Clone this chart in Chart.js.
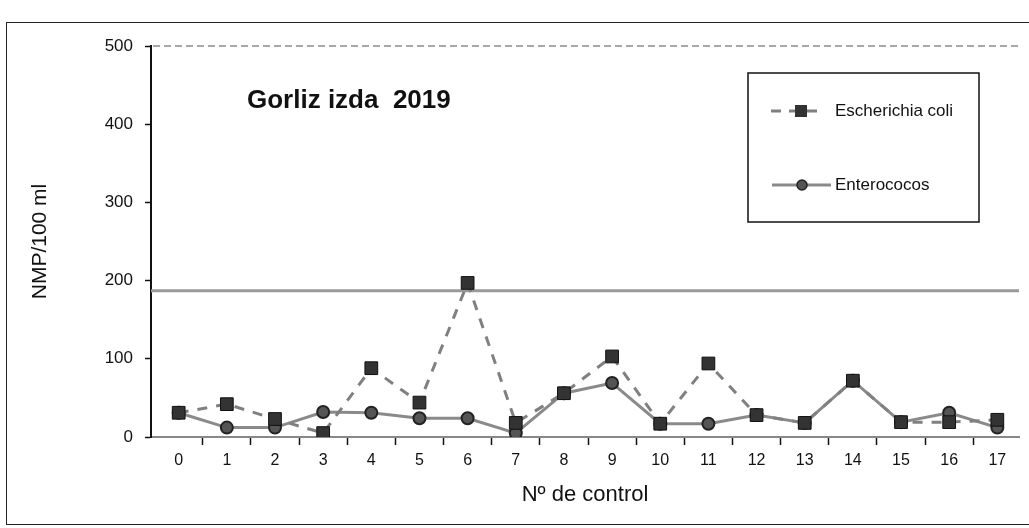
<!DOCTYPE html>
<html>
<head>
<meta charset="utf-8">
<script src="https://cdn.jsdelivr.net/npm/chart.js@4.4.1/dist/chart.umd.min.js"></script>
<style>
  html, body { margin: 0; padding: 0; background: #fff; overflow: hidden; }
  #wrap { position: relative; width: 1029px; height: 528px; overflow: hidden; }
  #frame { position: absolute; left: 6px; top: 22px; width: 1100px; height: 501px; border: 1.5px solid #222; pointer-events: none; }
</style>
</head>
<body>
<div id="wrap">
  <canvas id="grafico" width="1029" height="528"></canvas>
  <div id="frame"></div>
</div>
<script>
// datos
const categorias = [0, 1, 2, 3, 4, 5, 6, 7, 8, 9, 10, 11, 12, 13, 14, 15, 16, 17];
const eColi = [31, 42, 23, 5, 88, 44, 197, 18, 56, 103, 17, 94, 28, 18, 72, 19, 19, 22];
const enterococos = [31, 12, 12, 32, 31, 24, 24, 5, 56, 69, 17, 17, 28, 18, 72, 19, 31, 12];
const yTicks = [0, 100, 200, 300, 400, 500];
const limite = 187;
const techo = 500;

const FONT = '"Liberation Sans", Arial, sans-serif';

// líneas de referencia, título y leyenda dibujados sobre el canvas
const extras = {
  id: 'extras',
  beforeDatasetsDraw(chart) {
    const { ctx, chartArea, scales } = chart;
    ctx.save();
    let y = scales.y.getPixelForValue(limite);
    ctx.strokeStyle = '#9a9a9a';
    ctx.lineWidth = 3;
    ctx.beginPath(); ctx.moveTo(chartArea.left, y); ctx.lineTo(chartArea.right, y); ctx.stroke();
    y = scales.y.getPixelForValue(techo);
    ctx.strokeStyle = '#a8a8a8';
    ctx.lineWidth = 2;
    ctx.setLineDash([7, 4]);
    ctx.beginPath(); ctx.moveTo(chartArea.left + 2, y); ctx.lineTo(chartArea.right, y); ctx.stroke();
    ctx.restore();
  },
  afterDraw(chart) {
    const ctx = chart.ctx;
    ctx.save();
    ctx.fillStyle = '#111';
    ctx.font = 'bold 26px ' + FONT;
    ctx.textBaseline = 'middle';
    ctx.fillText('Gorliz izda  2019', 247, 101);

    // leyenda
    ctx.strokeStyle = '#111';
    ctx.lineWidth = 1.5;
    ctx.strokeRect(748, 73, 231, 149);

    ctx.strokeStyle = '#808080';
    ctx.lineWidth = 3;
    ctx.setLineDash([10, 8]);
    ctx.beginPath(); ctx.moveTo(771, 111); ctx.lineTo(818, 111); ctx.stroke();
    ctx.setLineDash([]);
    ctx.fillStyle = '#333';
    ctx.fillRect(795, 105, 12, 12);

    ctx.strokeStyle = '#8a8a8a';
    ctx.beginPath(); ctx.moveTo(772, 185); ctx.lineTo(831, 185); ctx.stroke();
    ctx.fillStyle = '#555';
    ctx.strokeStyle = '#222';
    ctx.lineWidth = 1.5;
    ctx.beginPath(); ctx.arc(802, 185, 5, 0, Math.PI * 2); ctx.fill(); ctx.stroke();

    ctx.fillStyle = '#111';
    ctx.font = '17px ' + FONT;
    ctx.fillText('Escherichia coli', 835, 111);
    ctx.fillText('Enterococos', 835, 185);
    ctx.restore();
  }
};

new Chart(document.getElementById('grafico'), {
  type: 'line',
  data: {
    datasets: [{
      label: 'Escherichia coli',
      data: categorias.map((c, i) => ({ x: c, y: eColi[i] })),
      borderColor: '#808080',
      borderWidth: 3,
      borderDash: [10, 9],
      pointStyle: 'rect',
      pointRadius: 9,
      pointBackgroundColor: '#333',
      pointBorderColor: '#111',
      pointBorderWidth: 1,
      tension: 0
    }, {
      label: 'Enterococos',
      data: categorias.map((c, i) => ({ x: c, y: enterococos[i] })),
      borderColor: '#8a8a8a',
      borderWidth: 3,
      pointStyle: 'circle',
      pointRadius: 6,
      pointBackgroundColor: '#555',
      pointBorderColor: '#222',
      pointBorderWidth: 2,
      tension: 0
    }]
  },
  options: {
    responsive: false,
    animation: false,
    layout: { padding: { top: 46, right: 0, left: 0, bottom: 0 } },
    plugins: { legend: { display: false }, tooltip: { enabled: false } },
    scales: {
      x: {
        type: 'linear',
        min: -0.575,
        max: 17.45,
        afterBuildTicks: s => { s.ticks = categorias.flatMap(c => [{ value: c }, { value: c + 0.5 }]).filter(t => t.value <= 17.45); },
        afterFit: s => { s.height = 91; },
        border: { color: '#888', width: 2 },
        grid: {
          drawOnChartArea: false,
          tickLength: 8,
          tickWidth: 1.5,
          tickColor: c => Number.isInteger(c.tick.value) ? 'rgba(0,0,0,0)' : '#111'
        },
        ticks: {
          autoSkip: false,
          maxRotation: 0,
          padding: 6,
          color: '#111',
          font: { family: FONT, size: 16 },
          callback: v => Number.isInteger(v) ? v : ''
        },
        title: {
          display: true,
          text: 'Nº de control',
          color: '#111',
          font: { family: FONT, size: 22 },
          padding: { top: 0, bottom: 20 }
        }
      },
      y: {
        min: 0,
        max: 500,
        afterBuildTicks: s => { s.ticks = yTicks.map(v => ({ value: v })); },
        afterFit: s => { s.width = 151; },
        border: { color: '#111', width: 2 },
        grid: { drawOnChartArea: false, tickLength: 6, tickWidth: 1.5, tickColor: '#111' },
        ticks: {
          padding: 12,
          color: '#111',
          font: { family: FONT, size: 17 }
        },
        title: {
          display: true,
          text: 'NMP/100 ml',
          color: '#111',
          font: { family: FONT, size: 21 },
          padding: { top: 28, bottom: 0 }
        }
      }
    }
  },
  plugins: [extras]
});
</script>
</body>
</html>
